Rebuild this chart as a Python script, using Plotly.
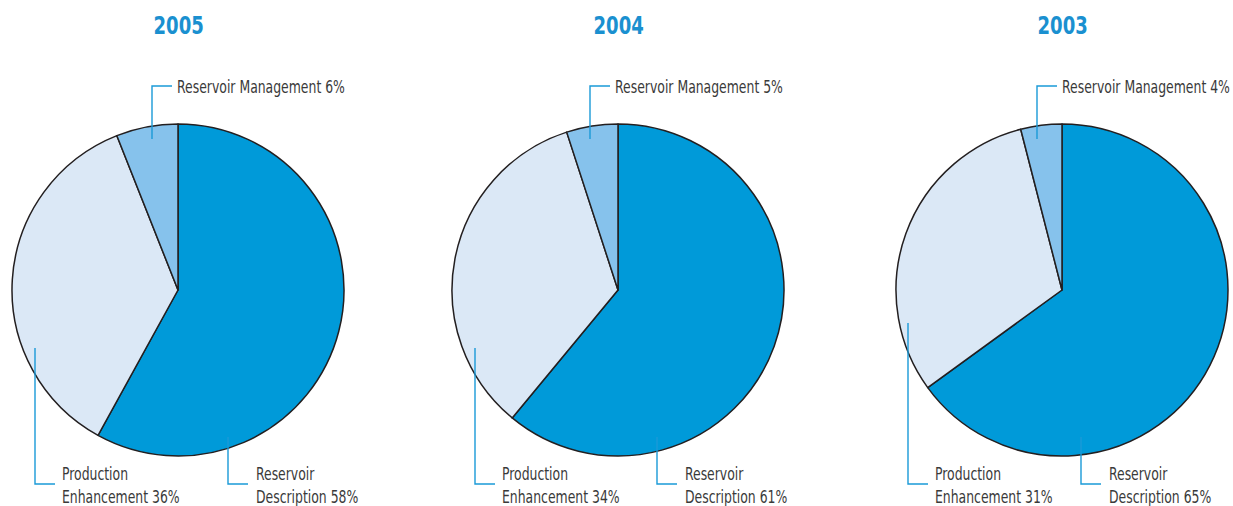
import json
import plotly.graph_objects as go

# Revenue split by service line, per year
years = ["2005", "2004", "2003"]
categories = ["Reservoir Description", "Production Enhancement", "Reservoir Management"]
share_2005 = [58, 36, 6]
share_2004 = [61, 34, 5]
share_2003 = [65, 31, 4]
shares = [share_2005, share_2004, share_2003]

W, H = 1233, 506
slice_colors = ["#009ad9", "#dbe8f6", "#86c2ec"]
edge_color = "#231f20"
leader_color = "#1a9ad8"
title_color = "#1a90d0"
text_color = "#3a3a3a"
label_font = "DejaVu Sans Condensed"

# Horizontal squeeze applied to the drawn text (narrow typeface look)
label_squeeze = 0.79
title_squeeze = 0.82

# Pie layout in pixels: centre x, centre y, radius
centres = [178, 618, 1062]
cy, radius = 290, 166

# Leader-line x positions (relative to each pie centre) and start depths
leaders = [
    {"rm": -26, "pe": -143, "pe_y0": 348, "rd": 50},
    {"rm": -28, "pe": -143, "pe_y0": 348, "rd": 39},
    {"rm": -25, "pe": -154, "pe_y0": 323, "rd": 19},
]


def px(x):
    return x / W


def py(y):
    return 1 - y / H


fig = go.Figure()
shapes = []
annotations = []
squeeze = []  # per annotation: [pivot, factor]

for year, vals, cx, ld in zip(years, shares, centres, leaders):
    fig.add_trace(go.Pie(
        labels=categories,
        values=vals,
        sort=False,
        direction="clockwise",
        rotation=0,
        textinfo="none",
        hoverinfo="label+percent",
        marker=dict(colors=slice_colors, line=dict(color=edge_color, width=1.5)),
        domain=dict(x=[px(cx - radius), px(cx + radius)],
                    y=[py(cy + radius), py(cy - radius)]),
        showlegend=False,
    ))

    # Year heading
    annotations.append(dict(
        x=px(cx), y=py(25), xref="paper", yref="paper",
        text=f"<b>{year}</b>", showarrow=False, xanchor="center", yanchor="middle",
        font=dict(family=label_font, size=24.5, color=title_color),
    ))
    squeeze.append(["center", title_squeeze])

    rd, pe, rm = vals
    # Reservoir Management: up and to the right
    x_rm = cx + ld["rm"]
    shapes.append(dict(type="path", xref="paper", yref="paper",
                       path=f"M {px(x_rm)},{py(139)} L {px(x_rm)},{py(86)} L {px(x_rm + 20)},{py(86)}",
                       line=dict(color=leader_color, width=1.4)))
    annotations.append(dict(
        x=px(x_rm + 23), y=py(86.5), xref="paper", yref="paper",
        text=f"Reservoir Management {rm}%", showarrow=False,
        xanchor="left", yanchor="middle",
        font=dict(family=label_font, size=17.5, color=text_color),
    ))
    squeeze.append(["left", label_squeeze])

    # Production Enhancement: down and to the right
    x_pe = cx + ld["pe"]
    shapes.append(dict(type="path", xref="paper", yref="paper",
                       path=f"M {px(x_pe)},{py(ld['pe_y0'])} L {px(x_pe)},{py(484)} L {px(x_pe + 20)},{py(484)}",
                       line=dict(color=leader_color, width=1.4)))
    annotations.append(dict(
        x=px(x_pe + 25), y=py(485), xref="paper", yref="paper",
        text=f"Production<br>Enhancement {pe}%", showarrow=False,
        xanchor="left", yanchor="middle", align="left",
        font=dict(family=label_font, size=17.5, color=text_color),
    ))
    squeeze.append(["left", label_squeeze])

    # Reservoir Description: down and to the right
    x_rd = cx + ld["rd"]
    shapes.append(dict(type="path", xref="paper", yref="paper",
                       path=f"M {px(x_rd)},{py(437)} L {px(x_rd)},{py(484)} L {px(x_rd + 20)},{py(484)}",
                       line=dict(color=leader_color, width=1.4)))
    annotations.append(dict(
        x=px(x_rd + 26), y=py(485), xref="paper", yref="paper",
        text=f"Reservoir<br>Description {rd}%", showarrow=False,
        xanchor="left", yanchor="middle", align="left",
        font=dict(family=label_font, size=17.5, color=text_color),
    ))
    squeeze.append(["left", label_squeeze])

fig.update_layout(
    width=W, height=H,
    margin=dict(l=0, r=0, t=0, b=0),
    paper_bgcolor="white",
    plot_bgcolor="white",
    shapes=shapes,
    annotations=annotations,
)

# Narrow each annotation horizontally about its left edge or its centre
narrow_js = """
(function () {
    var spec = SPEC;
    var gd = document.getElementById('{plot_id}');
    gd.querySelectorAll('g.annotation').forEach(function (g) {
        var i = parseInt(g.getAttribute('data-index'), 10);
        var s = spec[i];
        var t = g.querySelector('text.annotation-text');
        if (!s || !t) return;
        var b = t.getBBox();
        var p = s[0] === 'left' ? b.x : b.x + b.width / 2;
        t.setAttribute('transform',
            'translate(' + p + ',0) scale(' + s[1] + ',1) translate(' + (-p) + ',0)');
    });
})();
""".replace("SPEC", json.dumps(squeeze))

fig.write_html("out.html", post_script=narrow_js)
